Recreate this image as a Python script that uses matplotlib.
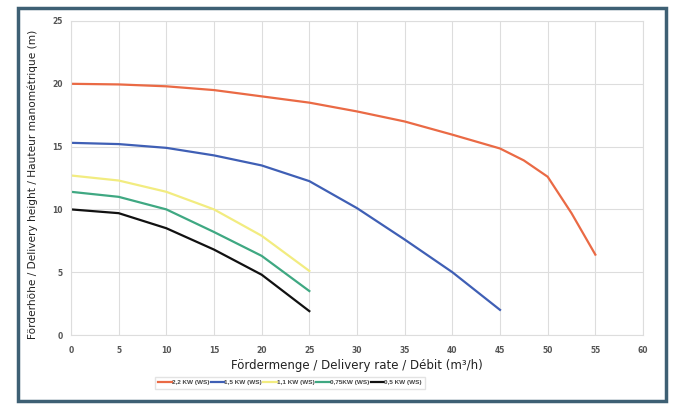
import matplotlib.pyplot as plt
from matplotlib.patches import Rectangle

# Pump curves
flow_22 = [0, 5, 10, 15, 20, 25, 30, 35, 40, 45, 47.5, 50, 52.5, 55]
head_22 = [20, 19.95, 19.8, 19.5, 19.0, 18.5, 17.8, 17.0, 15.95, 14.85, 13.9, 12.6, 9.7, 6.4]

flow_15 = [0, 5, 10, 15, 20, 25, 30, 35, 40, 45]
head_15 = [15.3, 15.2, 14.9, 14.3, 13.5, 12.25, 10.1, 7.6, 5.0, 2.0]

flow_11 = [0, 5, 10, 15, 20, 25]
head_11 = [12.7, 12.3, 11.4, 10.0, 7.9, 5.1]

flow_075 = [0, 5, 10, 15, 20, 25]
head_075 = [11.4, 11.0, 10.0, 8.2, 6.3, 3.5]

flow_05 = [0, 5, 10, 15, 20, 25]
head_05 = [10.0, 9.7, 8.5, 6.8, 4.8, 1.9]

labels = ['2,2 KW (WS)', '1,5 KW (WS)', '1,1 KW (WS)', '0,75KW (WS)', '0,5 KW (WS)']
colors = ['#ea6a45', '#3f5fb5', '#f2ec80', '#3fa882', '#111111']

x_ticks = list(range(0, 61, 5))
y_ticks = list(range(0, 26, 5))

fig = plt.figure(figsize=(6.83, 4.11), dpi=100)

# Dark frame around the chart
fig.patches.append(Rectangle((18 / 683, 10 / 411), 648 / 683, 393 / 411,
                             transform=fig.transFigure, fill=False,
                             edgecolor='#3e6074', linewidth=2.5))

ax = fig.add_axes([71 / 683, 76 / 411, 572 / 683, 314 / 411])

series = [(flow_22, head_22), (flow_15, head_15), (flow_11, head_11),
          (flow_075, head_075), (flow_05, head_05)]
for (x, y), lab, col in zip(series, labels, colors):
    ax.plot(x, y, color=col, linewidth=1.6, label=lab)

ax.set_xlim(0, 60)
ax.set_ylim(0, 25)
ax.set_xticks(x_ticks)
ax.set_yticks(y_ticks)
ax.grid(True, color='#dddddd', linewidth=0.8)
ax.set_axisbelow(True)
for s in ax.spines.values():
    s.set_color('#dddddd')
    s.set_linewidth(0.8)
ax.tick_params(axis='x', length=0, labelsize=5.5, labelcolor='#555555', pad=8)
ax.tick_params(axis='y', length=0, labelsize=5.5, labelcolor='#555555', pad=6)
for t in ax.get_xticklabels() + ax.get_yticklabels():
    t.set_fontweight('bold')

ax.set_xlabel('Fördermenge / Delivery rate / Débit (m³/h)', fontsize=8.5,
              color='#222222', labelpad=3)
ax.set_ylabel('Förderhöhe / Delivery height / Hauteur manométrique (m)',
              fontsize=7.6, color='#222222', labelpad=12)
ax.yaxis.set_label_coords(-0.058, 0.48)

leg = ax.legend(loc='upper center', bbox_to_anchor=(0.383, -0.122), ncol=5,
                frameon=True, fancybox=False,
                prop={'size': 4.6, 'weight': 'bold', 'family': 'Liberation Sans'},
                handlelength=2.1, handletextpad=0.05, columnspacing=0.2,
                borderpad=0.55, edgecolor='#dddddd')
for t in leg.get_texts():
    t.set_color('#444444')

fig.savefig('out.png', dpi=100)
